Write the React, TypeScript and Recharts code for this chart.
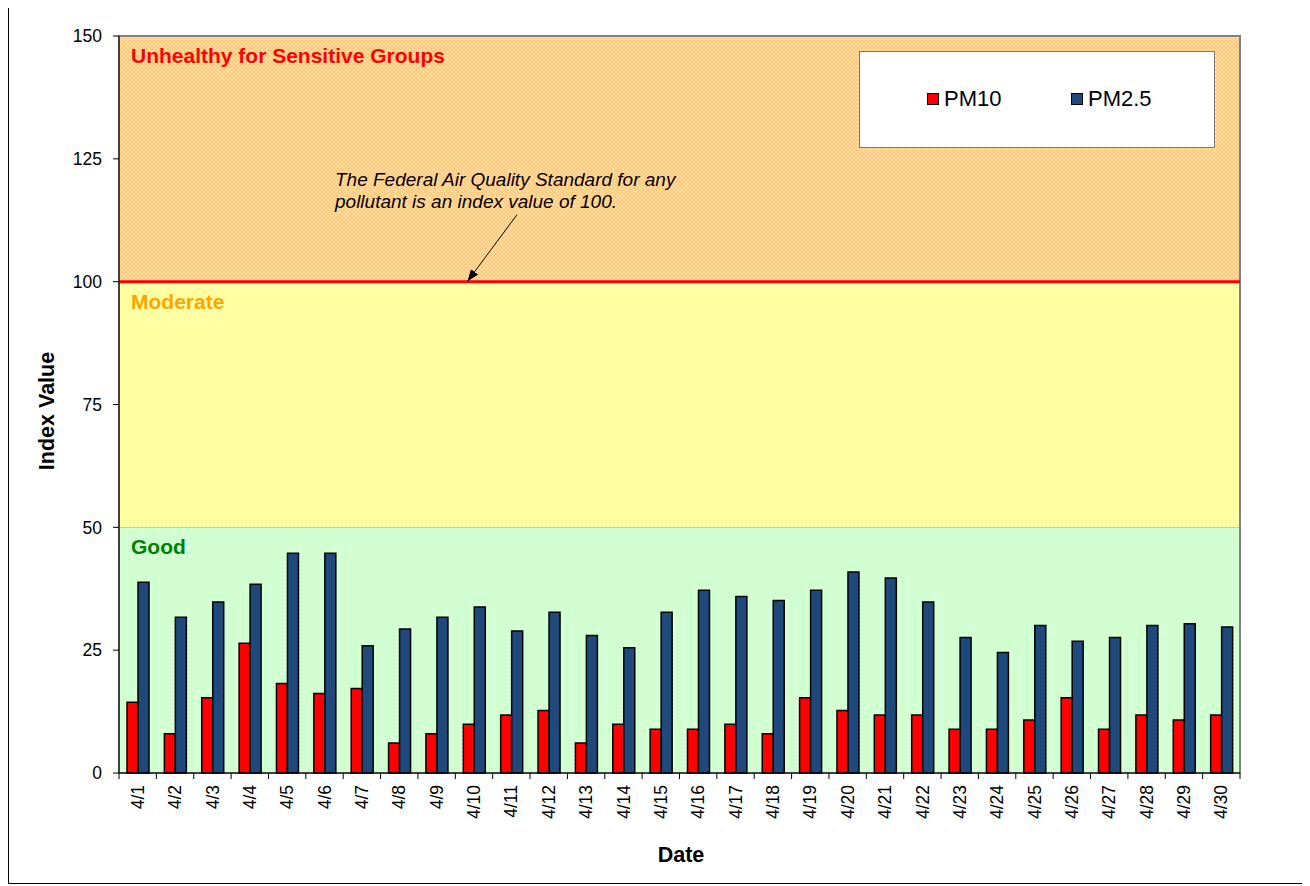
import {
  BarChart,
  Bar,
  XAxis,
  YAxis,
  CartesianGrid,
  ReferenceArea,
  ReferenceLine,
  Legend,
} from "recharts";

const dates = [
  "4/1", "4/2", "4/3", "4/4", "4/5", "4/6", "4/7", "4/8", "4/9", "4/10",
  "4/11", "4/12", "4/13", "4/14", "4/15", "4/16", "4/17", "4/18", "4/19", "4/20",
  "4/21", "4/22", "4/23", "4/24", "4/25", "4/26", "4/27", "4/28", "4/29", "4/30",
];
const pm10 = [
  14.4, 8, 15.3, 26.4, 18.2, 16.2, 17.2, 6.1, 8, 9.9,
  11.8, 12.7, 6.1, 9.9, 8.9, 8.9, 9.9, 8, 15.3, 12.7,
  11.8, 11.8, 8.9, 8.9, 10.8, 15.3, 8.9, 11.8, 10.8, 11.8,
];
const pm25 = [
  38.8, 31.7, 34.8, 38.4, 44.7, 44.7, 25.9, 29.3, 31.7, 33.8,
  28.9, 32.7, 28, 25.5, 32.7, 37.2, 35.9, 35.1, 37.2, 40.9,
  39.7, 34.8, 27.6, 24.5, 30, 26.8, 27.6, 30, 30.4, 29.7,
];
const yTicks = [0, 25, 50, 75, 100, 125, 150];
const noteLines = [
  "The Federal Air Quality Standard for any",
  "pollutant is an index value of 100.",
];

const data = dates.map((d, i) => ({ date: d, PM10: pm10[i], "PM2.5": pm25[i] }));

const FONT = "'Liberation Sans', Arial, sans-serif";
const RED = "#FF0000";
const NAVY = "#1F497D";

function bandShape(id: string, base: string) {
  return (p: any) => (
    <g>
      <defs>
        <pattern id={id} width={4} height={4} patternUnits="userSpaceOnUse">
          <rect width={4} height={4} fill={base} />
          <rect x={0} y={0} width={1.4} height={1.4} fill="#fff" opacity={0.75} />
          <rect x={2} y={2} width={1.4} height={1.4} fill="#fff" opacity={0.75} />
        </pattern>
      </defs>
      <rect x={p.x} y={p.y} width={p.width} height={p.height} fill={`url(#${id})`} />
    </g>
  );
}

// annotation drawn as the label of the 100 line, so it sits above the bands
function StandardNote(props: any) {
  const vb = props.viewBox || { x: 110, y: 277 };
  const x0 = vb.x + 216;
  const y0 = vb.y - 96;
  return (
    <g>
      <defs>
        <marker id="arrowHead" markerWidth={12} markerHeight={12} refX={11} refY={6} orient="auto" markerUnits="userSpaceOnUse">
          <path d="M0,1.5 L12,6 L0,10.5 z" fill="#000" />
        </marker>
      </defs>
      {noteLines.map((t, i) => (
        <text key={i} x={x0} y={y0 + i * 22} fontSize={19} fontStyle="italic" fill="#000" fontFamily={FONT}>
          {t}
        </text>
      ))}
      <line
        x1={vb.x + 398}
        y1={vb.y - 67}
        x2={vb.x + 349}
        y2={vb.y - 1}
        stroke="#000"
        strokeWidth={1}
        markerEnd="url(#arrowHead)"
      />
    </g>
  );
}

function DateTick(props: any) {
  const { x, y, payload, index } = props;
  const half = payload && payload.offset ? payload.offset : 1121 / 60;
  const axisY = y - 12;
  return (
    <g>
      <line x1={x - half} x2={x - half} y1={axisY} y2={axisY + 6} stroke="#000" />
      {index === dates.length - 1 && (
        <line x1={x + half} x2={x + half} y1={axisY} y2={axisY + 6} stroke="#000" />
      )}
      <text
        x={x}
        y={y}
        dy="0.35em"
        transform={`rotate(-90 ${x} ${y})`}
        textAnchor="end"
        fontSize={17.5}
        fill="#000"
      >
        {payload.value}
      </text>
    </g>
  );
}

function LegendBox() {
  return (
    <div
      style={{
        width: 356,
        height: 97,
        boxSizing: "border-box",
        background: "#fff",
        border: "1px solid #777",
        position: "relative",
        fontFamily: FONT,
        fontSize: 22,
      }}
    >
      {[
        { name: "PM10", color: RED, left: 67 },
        { name: "PM2.5", color: NAVY, left: 211 },
      ].map((it) => (
        <div
          key={it.name}
          style={{ position: "absolute", left: it.left, top: 34, display: "flex", alignItems: "center" }}
        >
          <span
            style={{
              display: "inline-block",
              width: 10,
              height: 10,
              background: it.color,
              border: "1.5px solid #000",
              marginRight: 5,
            }}
          />
          <span>{it.name}</span>
        </div>
      ))}
    </div>
  );
}

const bandLabel = (value: string, fill: string) => ({
  value,
  position: "insideTopLeft" as const,
  offset: 12,
  fill,
  fontWeight: "bold",
  fontSize: 21,
});

export default function App() {
  return (
    <div
      style={{
        marginTop: -4,
        width: 1298,
        height: 880,
        boxSizing: "border-box",
        border: "1px solid #000",
        position: "relative",
        fontFamily: FONT,
        background: "#fff",
      }}
    >
      <BarChart
        width={1296}
        height={878}
        data={data}
        margin={{ top: 31, right: 65, bottom: 50, left: 50 }}
        barSize={11}
        barGap={0}
        style={{ fontFamily: FONT }}
      >
        <ReferenceArea
          y1={100}
          y2={150}
          shape={bandShape("patOrange", "#FFCA80")}
          label={bandLabel("Unhealthy for Sensitive Groups", RED)}
        />
        <ReferenceArea
          y1={50}
          y2={100}
          shape={bandShape("patYellow", "#FFFF9C")}
          label={bandLabel("Moderate", "#FFA500")}
        />
        <ReferenceArea
          y1={0}
          y2={50}
          shape={bandShape("patGreen", "#CCFFCC")}
          label={bandLabel("Good", "#008000")}
        />
        <CartesianGrid vertical={false} stroke="#000" strokeWidth={1} />
        <ReferenceArea y1={0} y2={150} fill="none" fillOpacity={0} stroke="#808080" strokeWidth={2} />
        <XAxis
          dataKey="date"
          interval={0}
          height={60}
          tickLine={false}
          tickSize={6}
          tickMargin={6}
          axisLine={{ stroke: "#000" }}
          tick={<DateTick />}
        />
        <YAxis
          domain={[0, 150]}
          ticks={yTicks}
          width={60}
          tickSize={6}
          tickMargin={11}
          tick={{ fontSize: 17.5, fill: "#000" }}
          tickLine={{ stroke: "#000" }}
          axisLine={{ stroke: "#000" }}
        />
        <ReferenceLine y={100} stroke={RED} strokeWidth={3} label={<StandardNote />} />
        <Bar dataKey="PM10" fill={RED} stroke="#000" strokeWidth={1.5} isAnimationActive={false} />
        <Bar dataKey="PM2.5" fill={NAVY} stroke="#000" strokeWidth={1.5} isAnimationActive={false} />
        <Legend
          layout="horizontal"
          align="center"
          verticalAlign="middle"
          width={356}
          height={97}
          wrapperStyle={{ left: 850, top: 46 }}
          content={<LegendBox />}
        />
        <text x={672} y={857} textAnchor="middle" fontSize={21.5} fontWeight="bold" fill="#000">
          Date
        </text>
        <text
          x={45}
          y={406}
          textAnchor="middle"
          transform="rotate(-90 45 406)"
          fontSize={21.5}
          fontWeight="bold"
          fill="#000"
        >
          Index Value
        </text>
      </BarChart>
    </div>
  );
}
